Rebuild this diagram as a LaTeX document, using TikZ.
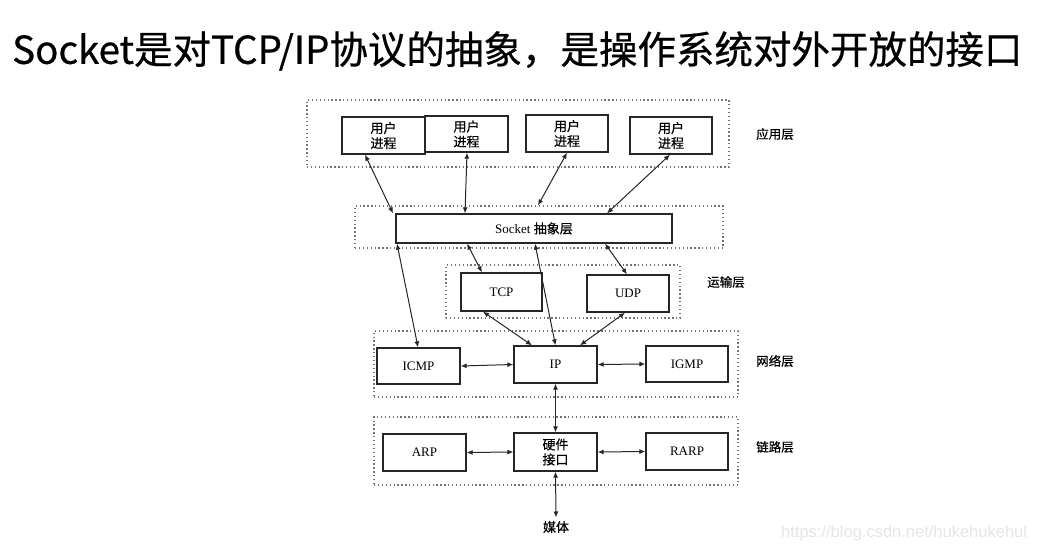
\documentclass[tikz,border=0pt]{standalone}
\usepackage{fontspec}
\setmainfont{Liberation Serif}
\newfontfamily\cjk{Noto Sans CJK SC}
\newfontfamily\cjkbold[FakeBold=0.6]{Noto Sans CJK SC}
\usepackage{tikz}
\usetikzlibrary{arrows.meta,calc}
\tikzstyle{layer} = [rectangle, draw=black!55, line width=1.2pt, dash pattern=on 1.3pt off 2.6pt, inner sep=0pt]
\tikzstyle{proc} = [rectangle, draw=black!85, line width=1.3pt, fill=white, minimum width=83pt, minimum height=37pt, inner sep=0pt, align=center, font=\fontsize{13}{15}\selectfont]
\tikzstyle{lbl} = [font=\cjkbold\fontsize{12.5}{14}\selectfont]
\tikzstyle{arrow} = [<->, >={Latex[length=6pt,width=5pt]}, line width=1pt, black!85]

\begin{document}
\begin{tikzpicture}[x=1pt,y=-1pt]
  \useasboundingbox (0,0) rectangle (1055,551);
  \node [anchor=west, inner sep=0pt, font=\cjkbold\fontsize{38.5}{42}\selectfont] (title) at (12,51) {Socket是对TCP/IP协议的抽象，是操作系统对外开放的接口};

  % dotted layers
  \node [layer, minimum width=422pt, minimum height=67pt] (applayer) at (518,133.5) {};
  \node [layer, minimum width=368pt, minimum height=42pt] (socklayer) at (539,227) {};
  \node [layer, minimum width=234pt, minimum height=53pt] (translayer) at (563,291.5) {};
  \node [layer, minimum width=364pt, minimum height=66pt] (netlayer) at (556,364) {};
  \node [layer, minimum width=364pt, minimum height=68pt] (linklayer) at (556,451) {};

  \node [lbl] (appname) at (775,134) {应用层};
  \node [lbl] (transname) at (726,282) {运输层};
  \node [lbl] (netname) at (775,361) {网络层};
  \node [lbl] (linkname) at (775,447) {链路层};

  % boxes
  \node [proc] (user1) at (383.5,135.5) {\cjkbold 用户\\\cjkbold 进程};
  \node [proc, minimum height=36pt] (user2) at (466.5,134) {\cjkbold 用户\\\cjkbold 进程};
  \node [proc, minimum width=82pt] (user3) at (567,133.5) {\cjkbold 用户\\\cjkbold 进程};
  \node [proc, minimum width=82pt] (user4) at (671,135.5) {\cjkbold 用户\\\cjkbold 进程};
  \node [proc, minimum width=276pt, minimum height=29pt] (socket) at (534,228.5) {Socket {\cjkbold 抽象层}};
  \node [proc, minimum width=81pt, minimum height=38pt] (tcp) at (501.5,292) {TCP};
  \node [proc, minimum width=82pt] (udp) at (628,293.5) {UDP};
  \node [proc, minimum height=36pt] (icmp) at (418.5,366) {ICMP};
  \node [proc] (ip) at (555.5,364.5) {IP};
  \node [proc, minimum width=82pt, minimum height=36pt] (igmp) at (687,364) {IGMP};
  \node [proc] (arp) at (424.5,452.5) {ARP};
  \node [proc, minimum height=38pt] (hw) at (555.5,452) {\cjkbold 硬件\\\cjkbold 接口};
  \node [proc, minimum width=82pt] (rarp) at (687,451.5) {RARP};
  \node [lbl, font=\cjkbold\fontsize{13}{14}\selectfont] (media) at (556,527) {媒体};

  % connectors
  \draw [arrow] ($(user1.south)+(-18.5,0)$) -- ($(socket.north)+(-141,0)$);
  \draw [arrow] ($(user2.south)+(0.5,0)$) -- ($(socket.north)+(-69,0)$);
  \draw [arrow] (user3.south) -- ($(socklayer.north)+(-1,0)$);
  \draw [arrow] ($(user4.south)+(-1,0)$) -- ($(socket.north)+(73,0)$);
  \draw [arrow] ($(socket.south)+(-137,0)$) -- ($(icmp.north)+(-0.5,0)$);
  \draw [arrow] ($(socket.south)+(-67,0)$) -- ($(tcp.north)+(-19.5,0)$);
  \draw [arrow] ($(socket.south)+(1,0)$) -- (ip.north);
  \draw [arrow] ($(socket.south)+(71,0)$) -- ($(udp.north)+(-1,0)$);
  \draw [arrow] ($(tcp.south)+(-18.5,0)$) -- ($(ip.north)+(-23.5,0)$);
  \draw [arrow] ($(udp.south)+(-3,0)$) -- ($(ip.north)+(24.5,0)$);
  \draw [arrow] (icmp.east) -- (ip.west);
  \draw [arrow] (ip.east) -- (igmp.west);
  \draw [arrow] (ip.south) -- (hw.north);
  \draw [arrow] (arp.east) -- (hw.west);
  \draw [arrow] (hw.east) -- (rarp.west);
  \draw [arrow] (hw.south) -- (media.north);

  \node [anchor=base west, inner sep=0pt, text=black!10, font=\fontspec{Liberation Sans}\fontsize{16.5}{18}\selectfont] (mark) at (781,537) {https://blog.csdn.net/hukehukehul};
\end{tikzpicture}
\end{document}
